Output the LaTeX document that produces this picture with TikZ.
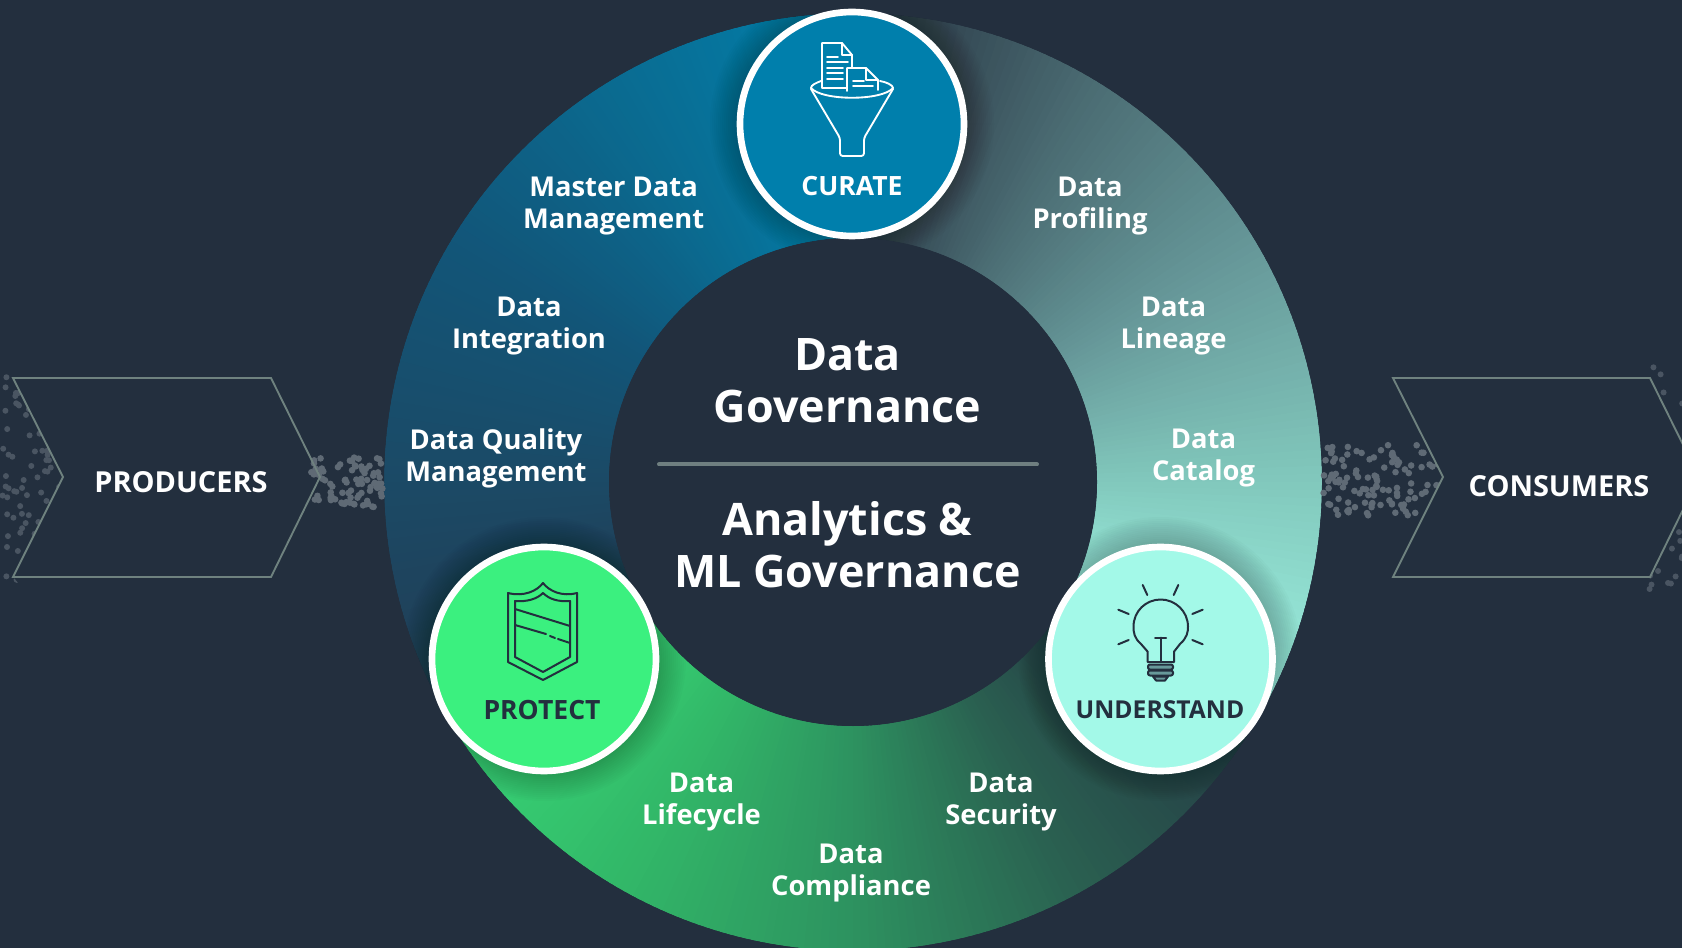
\documentclass[tikz,border=0pt]{standalone}
\usepackage{fontspec}
\setmainfont{Open Sans}
\definecolor{bgcol}{HTML}{232F3E}
\definecolor{edgecol}{HTML}{6F827F}
\definecolor{dotcol}{HTML}{5F6A75}
\definecolor{dimdot}{HTML}{4A5562}
\definecolor{rulecol}{HTML}{6F7F80}
\definecolor{curcol}{HTML}{007FAC}
\definecolor{procol}{HTML}{3BF07F}
\definecolor{undcol}{HTML}{A3F9E8}
\definecolor{ra}{HTML}{263341}
\definecolor{rb}{HTML}{4A6B72}
\definecolor{rc}{HTML}{67999A}
\definecolor{rd}{HTML}{82C9BD}
\definecolor{re}{HTML}{A0F5E4}
\definecolor{ga}{HTML}{243A45}
\definecolor{gb}{HTML}{2A5F50}
\definecolor{gc}{HTML}{2D9360}
\definecolor{gd}{HTML}{32B868}
\definecolor{ge}{HTML}{38D878}
\definecolor{ba}{HTML}{223C53}
\definecolor{bb}{HTML}{1B4A66}
\definecolor{bc}{HTML}{125578}
\definecolor{bd}{HTML}{0A6C92}
\definecolor{be}{HTML}{0080AC}
\tikzset{
  chevron/.style={draw=edgecol,line width=1.4pt},
  ringlabel/.style={text=white,align=center,font=\fontsize{20.5}{24}\selectfont\bfseries},
  bigtitle/.style={text=white,align=center,font=\fontsize{33.6}{39}\selectfont\bfseries},
  sidelabel/.style={text=white,font=\fontsize{21.7}{24}\selectfont\bfseries},
  hub/.style={circle,draw=white,line width=5pt,minimum size=168pt,inner sep=0pt},
  hublabel/.style={font=\fontsize{19.9}{24}\selectfont\bfseries},
  iconw/.style={draw=white,line width=1.4pt,line cap=round,line join=round},
  icond/.style={draw=bgcol,line width=1.5pt,line cap=round,line join=round},
}
\begin{document}
\begin{tikzpicture}[x=0.75pt,y=-0.75pt]
\useasboundingbox (0,0) rectangle (1682,948);
\fill[bgcol] (0,0) rectangle (1682,948);
\begin{scope}[shift={(853,482)}]
\foreach \from/\colA/\colB in {-90/ra/rb,-60/rb/rc,-30/rc/rd,0/rd/re,30/ga/gb,60/gb/gc,90/gc/gd,120/gd/ge,150/ba/bb,180/bb/bc,210/bc/bd,240/bd/be}{
  \foreach \i in {0,...,29}{
    \pgfmathsetmacro\pct{100-\i*100/30}
    \fill[\colA!\pct!\colB] (\from+\i:469) -- (\from+\i:244) -- (\from+\i+1.4:244) -- (\from+\i+1.4:469) -- cycle;
  }
}
\end{scope}
\foreach \cx/\cy in {852/124,544/659,1160.5/659}{
  \foreach \r in {116,118,...,142}{
    \fill[black,opacity=0.016] (\cx,\cy) circle (\r);
  }
}
\fill[bgcol] (853,482) circle (244);
\fill[bgcol,even odd rule] (-5,-5) rectangle (1687,953) (853,482) circle (469);
\pgfmathsetseed{4242}
\foreach \i in {1,...,85}{
  \fill[dotcol] ({347+36*rand},{482+25*rand}) circle (3.3);
}
\begin{scope}
\clip (1318,378) -- (1393,378) -- (1443,477) -- (1393,577) -- (1318,577) -- cycle;
\foreach \i in {1,...,120}{
  \fill[dotcol] ({1382+59*rand},{480+36*rand}) circle (3.3);
}
\end{scope}
\begin{scope}
\clip (0,360) -- (24,360) -- (13,378) -- (63,477) -- (13,577) -- (24,590) -- (0,590) -- cycle;
\foreach \i in {1,...,95}{
  \fill[dimdot] ({30+30*rand},{475+108*rand}) circle (3);
}
\end{scope}
\begin{scope}
\clip (1682,360) -- (1645,360) -- (1650,378) -- (1699,477) -- (1650,577) -- (1645,595) -- (1682,595) -- cycle;
\foreach \i in {1,...,40}{
  \fill[dimdot] ({1665+18*rand},{477+115*rand}) circle (3);
}
\end{scope}
\draw[chevron] (13,378) -- (271,378) -- (320,477) -- (271,577) -- (13,577) -- (63,477) -- cycle;
\draw[chevron] (1393,378) -- (1650,378) -- (1699,477) -- (1650,577) -- (1393,577) -- (1443,477) -- cycle;
\node[sidelabel] (producers) at (181,482) {PRODUCERS};
\node[sidelabel] (consumers) at (1559,486) {CONSUMERS};
\node[hub,fill=curcol] (curate) at (852,124) {};
\node[hub,fill=procol] (protect) at (544,659) {};
\node[hub,fill=undcol] (understand) at (1160.5,659) {};
\node[hublabel,text=white] (curatetxt) at (852,186) {CURATE};
\node[hublabel,text=bgcol] (protecttxt) at (542,710) {PROTECT};
\node[hublabel,text=bgcol,font=\fontsize{18.5}{24}\selectfont\bfseries] (understandtxt) at (1160,710) {UNDERSTAND};
\node[ringlabel] (master) at (613.6,206.5) {Master Data\\Management};
\node[ringlabel] (integration) at (529,326.5) {Data\\Integration};
\node[ringlabel] (quality) at (496,458.5) {Data Quality\\Management};
\node[ringlabel] (profiling) at (1090,206.5) {Data\\Profiling};
\node[ringlabel] (lineage) at (1173.5,326.5) {Data\\Lineage};
\node[ringlabel] (catalog) at (1203.5,458.5) {Data\\Catalog};
\node[ringlabel] (lifecycle) at (701.5,802.5) {Data\\Lifecycle};
\node[ringlabel] (compliance) at (851,873.5) {Data\\Compliance};
\node[ringlabel] (security) at (1001,802.5) {Data\\Security};
\node[bigtitle] (datagov) at (847.5,380.5) {Data\\Governance};
\node[bigtitle] (mlgov) at (847.5,544.5) {Analytics \&\\ML Governance};
\coordinate (ruleleft) at (659,464.5);
\coordinate (ruleright) at (1037,464.5);
\draw[rulecol,line width=3pt,line cap=round] (ruleleft) -- (ruleright);
\draw[iconw] (846,88) -- (822,88) -- (822,43) -- (842,43) -- (852,55) -- (852,68);
\draw[iconw] (842,43) -- (842,55) -- (852,55);
\draw[iconw] (827,57) -- (838,57);
\draw[iconw] (827,62) -- (848,62);
\draw[iconw] (827,68) -- (843,68);
\draw[iconw] (827,73) -- (843,73);
\draw[iconw] (827,79) -- (843,79);
\draw[iconw] (847,91) -- (847,68) -- (866,68) -- (878,80) -- (878,90);
\draw[iconw] (866,68) -- (866,80) -- (878,80);
\draw[iconw] (853,81) -- (864,81);
\draw[iconw] (853,86) -- (873,86);
\draw[iconw] (811,88) .. controls (822,101) and (882,101) .. (893,88);
\draw[iconw] (811,88) .. controls (811,85) and (816,83) .. (821,81);
\draw[iconw] (893,88) .. controls (893,85) and (886,82) .. (880,81);
\draw[iconw,rounded corners=2] (811,89) -- (840,138) -- (840,156) -- (864,156) -- (864,138) -- (893,89);
\draw[icond] (543,583) .. controls (537,591) and (524,597) .. (508,593) -- (508,662) -- (543,680) -- (577,662) -- (577,593) .. controls (562,597) and (549,591) .. (543,583) -- cycle;
\draw[icond] (543,593) .. controls (537,599) and (527,602) .. (515,601) -- (515,657) -- (543,672) -- (570,657) -- (570,601) .. controls (558,602) and (549,599) .. (543,593) -- cycle;
\draw[icond] (515,609) -- (570,626);
\draw[icond] (515,625) -- (546,634);
\draw[icond] (550,636) -- (555,638);
\draw[icond] (558,639) -- (570,643);
\draw[icond] (1147.7,662) -- (1147.7,651.7) -- (1141,644) .. controls (1134,638) and (1133.5,632) .. (1133.5,626.7) .. controls (1133.5,611) and (1146,599.5) .. (1160.7,599.5) .. controls (1175,599.5) and (1188,611) .. (1188,626.7) .. controls (1188,632) and (1187,638) .. (1180,644) -- (1174,651.7) -- (1174,662) -- cycle;
\draw[icond] (1155,637.7) -- (1166,637.7);
\draw[icond] (1160.7,637.7) -- (1160.7,662);
\draw[icond] (1142.7,585) -- (1147.3,595);
\draw[icond] (1178.3,585) -- (1173.7,595);
\draw[icond] (1118.3,609.7) -- (1128.7,614);
\draw[icond] (1202.7,609.7) -- (1192.3,614);
\draw[icond] (1118.3,644.3) -- (1128.7,640);
\draw[icond] (1202.7,644.3) -- (1192.3,640);
\draw[icond,fill=rc,rounded corners=1.5] (1148,664.5) rectangle (1173,669.5);
\draw[icond,fill=rc,rounded corners=1.5] (1148,670.5) rectangle (1173,675.5);
\draw[icond,fill=rc] (1153,676.5) -- (1168,676.5) -- (1165,680.5) -- (1156,680.5) -- cycle;
\end{tikzpicture}
\end{document}
